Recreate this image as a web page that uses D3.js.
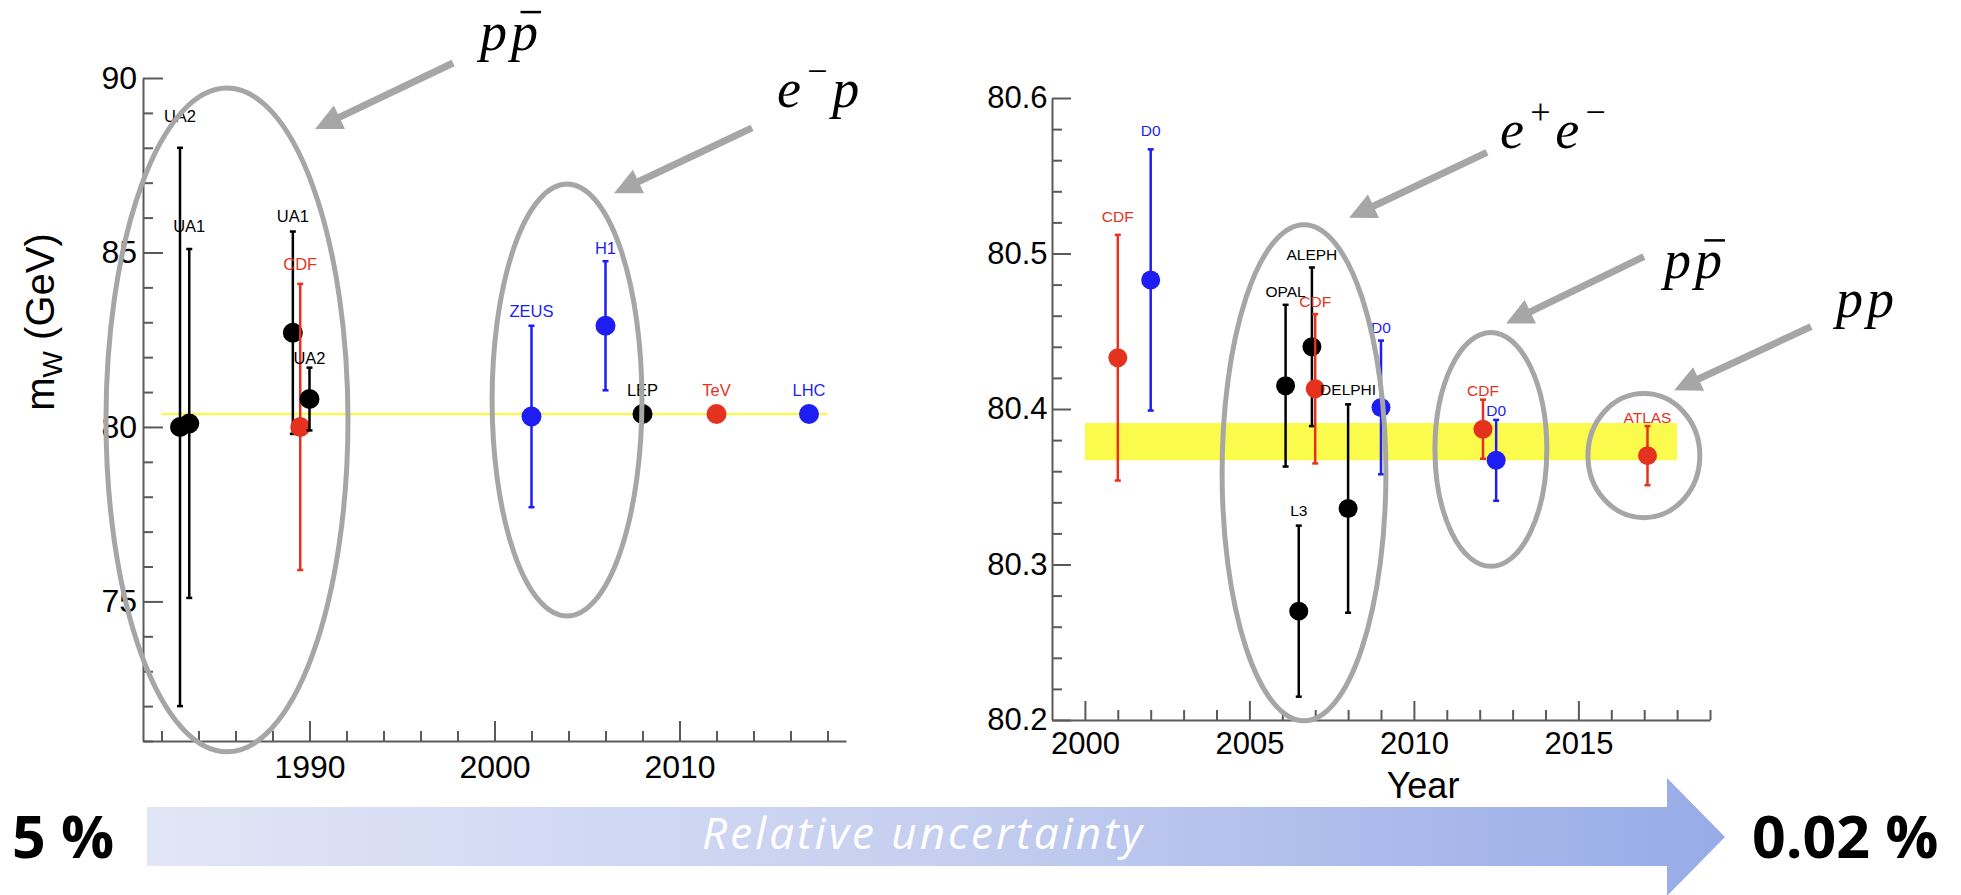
<!DOCTYPE html>
<html>
<head>
<meta charset="utf-8">
<script src="https://cdn.jsdelivr.net/npm/d3@7"></script>
<style>
  body { margin: 0; background: #fff; }
  svg { display: block; font-family: "Liberation Sans", Arial, Helvetica, sans-serif; }
  .axis path, .axis line { stroke: #5a5a5a; stroke-width: 2; }
  .axis text { fill: #000; }
</style>
</head>
<body>
<svg id="chart" width="1961" height="895"></svg>
<script>
// W mass measurements, overview panel (GeV)
var ovExperiment = ["UA2", "UA1", "UA1", "CDF", "UA2", "ZEUS", "H1", "LEP", "TeV", "LHC"];
var ovYear       = [1983, 1983.5, 1989.1, 1989.5, 1990, 2002, 2006, 2008, 2012, 2017];
var ovMass       = [80.0, 80.1, 82.7, 80.0, 80.8, 80.3, 82.9, 80.37, 80.37, 80.37];
var ovError      = [8.0, 5.0, 2.9, 4.1, 0.9, 2.6, 1.85, 0, 0, 0];
var ovSeries     = ["k", "k", "k", "r", "k", "b", "b", "k", "r", "b"];
var ovAverage    = 80.37;

// W mass measurements, detail panel (GeV)
var detExperiment = ["CDF", "D0", "OPAL", "L3", "ALEPH", "CDF", "DELPHI", "D0", "CDF", "D0", "ATLAS"];
var detYear       = [2001, 2002, 2006.1, 2006.5, 2006.9, 2007, 2008, 2009, 2012.1, 2012.5, 2017.1];
var detMass       = [80.433, 80.483, 80.415, 80.270, 80.440, 80.413, 80.336, 80.401, 80.387, 80.367, 80.370];
var detError      = [0.079, 0.084, 0.052, 0.055, 0.051, 0.048, 0.067, 0.043, 0.019, 0.026, 0.019];
var detSeries     = ["r", "b", "k", "k", "k", "r", "k", "b", "r", "b", "r"];
var detBand       = [80.367, 80.391];

// axis ticks
var ovYearTicks   = [1990, 2000, 2010];
var ovMassTicks   = [75, 80, 85, 90];
var detYearTicks  = [2000, 2005, 2010, 2015];
var detMassTicks  = [80.2, 80.3, 80.4, 80.5, 80.6];

// label lift above error bar (px), layout only
var ovLift  = [32, 23, 15, 20, 9, 15, 13, 24, 24, 24];
var detLift = [18, 19, 13, 15, 13, 13, 15, 13, 9, 9, 9];

var svg = d3.select('#chart');
var colour = d3.scaleOrdinal().domain(['k', 'r', 'b']).range(['#000000', '#e5321f', '#1e1ef2']);
var FONT = '"Liberation Sans", Arial, Helvetica, sans-serif';

var xL = d3.scaleLinear().domain([1981, 2019]).range([143, 846]);
var yL = d3.scaleLinear().domain([71, 90]).range([741, 78]);
var xR = d3.scaleLinear().domain([1999, 2019]).range([1052, 1710]);
var yR = d3.scaleLinear().domain([80.2, 80.6]).range([720, 98]);

function rows(exp, year, mass, err, series, lift)
{
    return d3.range(exp.length).map(function(i) {
        return {exp: exp[i], year: year[i], mass: mass[i], err: err[i], series: series[i], lift: lift[i]};
    });
}

function drawAxes(x, y, o)
{
    var y0 = y.range()[0], x0 = x.range()[0];

    var mx = svg.append('g').attr('class', 'axis')
        .attr('transform', 'translate(0,' + y0 + ')')
        .call(d3.axisBottom(x).tickValues(o.xMinor).tickSizeInner(-o.minor).tickSizeOuter(0).tickFormat(''));
    mx.select('.domain').remove();

    var my = svg.append('g').attr('class', 'axis')
        .attr('transform', 'translate(' + x0 + ',0)')
        .call(d3.axisLeft(y).tickValues(o.yMinor).tickSizeInner(-o.minor).tickSizeOuter(0).tickFormat(''));
    my.select('.domain').remove();

    svg.append('g').attr('class', 'axis')
        .attr('transform', 'translate(0,' + y0 + ')')
        .call(d3.axisBottom(x).tickValues(o.xMajor).tickSizeInner(-o.major).tickSizeOuter(0)
            .tickPadding(o.xPad).tickFormat(d3.format('d')))
        .attr('font-size', o.fontSize).attr('font-family', FONT);

    svg.append('g').attr('class', 'axis')
        .attr('transform', 'translate(' + x0 + ',0)')
        .call(d3.axisLeft(y).tickValues(o.yMajor).tickSizeInner(-o.major).tickSizeOuter(0)
            .tickPadding(o.yPad).tickFormat(o.yFormat))
        .attr('font-size', o.fontSize).attr('font-family', FONT);
}

function drawPoints(x, y, data, r, fs)
{
    var g = svg.append('g');
    var pt = g.selectAll('g.pt').data(data).join('g').attr('class', 'pt');
    var bars = pt.filter(function(d) { return d.err > 0 });

    bars.append('line')
        .attr('x1', function(d) { return x(d.year) }).attr('x2', function(d) { return x(d.year) })
        .attr('y1', function(d) { return y(d.mass + d.err) }).attr('y2', function(d) { return y(d.mass - d.err) })
        .attr('stroke', function(d) { return colour(d.series) }).attr('stroke-width', 2.5);

    [1, -1].forEach(function(s) {
        bars.append('line')
            .attr('x1', function(d) { return x(d.year) - 3 }).attr('x2', function(d) { return x(d.year) + 3 })
            .attr('y1', function(d) { return y(d.mass + s * d.err) }).attr('y2', function(d) { return y(d.mass + s * d.err) })
            .attr('stroke', function(d) { return colour(d.series) }).attr('stroke-width', 2.5);
    });

    pt.append('circle')
        .attr('cx', function(d) { return x(d.year) })
        .attr('cy', function(d) { return y(d.mass) })
        .attr('r', r)
        .attr('fill', function(d) { return colour(d.series) });

    g.selectAll('text').data(data).join('text')
        .attr('x', function(d) { return x(d.year) })
        .attr('y', function(d) { return y(d.mass + d.err) - d.lift })
        .attr('dy', '0.35em')
        .attr('text-anchor', 'middle')
        .attr('font-size', fs)
        .attr('fill', function(d) { return colour(d.series) })
        .text(function(d) { return d.exp });
}

// ---- left panel ----
drawAxes(xL, yL, {
    xMajor: ovYearTicks, xMinor: d3.range(1982, 2019, 2).filter(function(v) { return v % 10 }),
    yMajor: ovMassTicks, yMinor: d3.range(71, 91).filter(function(v) { return v % 5 }),
    major: 20, minor: 10, xPad: 14, yPad: 6, fontSize: 32, yFormat: d3.format('d')
});

svg.append('line')
    .attr('x1', xL(1982)).attr('x2', xL(2018))
    .attr('y1', yL(ovAverage)).attr('y2', yL(ovAverage))
    .attr('stroke', '#f8f85a').attr('stroke-width', 2.5);

drawPoints(xL, yL, rows(ovExperiment, ovYear, ovMass, ovError, ovSeries, ovLift), 10, 16.5);

var ylab = svg.append('text')
    .attr('transform', 'translate(54,322) rotate(-90)')
    .attr('text-anchor', 'middle')
    .attr('font-size', 40);
ylab.append('tspan').text('m');
ylab.append('tspan').attr('font-size', 28).attr('dy', 8).text('W');
ylab.append('tspan').attr('dy', -8).text(' (GeV)');

// ---- right panel ----
drawAxes(xR, yR, {
    xMajor: detYearTicks, xMinor: d3.range(2000, 2020).filter(function(v) { return v % 5 }),
    yMajor: detMassTicks, yMinor: d3.range(0, 21).filter(function(i) { return i % 5 }).map(function(i) { return 80.2 + i * 0.02 }),
    major: 19, minor: 10, xPad: 12, yPad: 4.5, fontSize: 31, yFormat: d3.format('.1f')
});

svg.insert('rect', 'g.axis')
    .attr('x', xR(2000)).attr('width', xR(2018) - xR(2000))
    .attr('y', yR(detBand[1])).attr('height', yR(detBand[0]) - yR(detBand[1]))
    .attr('fill', '#fbfb4e');

drawPoints(xR, yR, rows(detExperiment, detYear, detMass, detError, detSeries, detLift), 9.5, 15.5);

svg.append('text')
    .attr('x', 1423).attr('y', 798)
    .attr('text-anchor', 'middle')
    .attr('font-size', 36)
    .text('Year');

// ---- annotations: rings, arrows and collider labels, in panel units ----
var GREY = '#a6a6a6';

function ring(x, y, c)
{
    svg.append('ellipse')
        .attr('cx', x(c.cx)).attr('cy', y(c.cy))
        .attr('rx', Math.abs(x(c.cx + c.rx) - x(c.cx)))
        .attr('ry', Math.abs(y(c.cy + c.ry) - y(c.cy)))
        .attr('fill', 'none').attr('stroke', GREY).attr('stroke-width', 5);
}

function arrow(x, y, a)
{
    var t0 = [x(a.from[0]), y(a.from[1])], t1 = [x(a.to[0]), y(a.to[1])];
    var dx = t1[0] - t0[0], dy = t1[1] - t0[1], len = Math.sqrt(dx * dx + dy * dy);
    var ux = dx / len, uy = dy / len, head = 27, hw = 13;
    var bx = t1[0] - ux * head, by = t1[1] - uy * head;

    svg.append('line')
        .attr('x1', t0[0]).attr('y1', t0[1]).attr('x2', bx + ux * 2).attr('y2', by + uy * 2)
        .attr('stroke', GREY).attr('stroke-width', 7);
    svg.append('path')
        .attr('d', 'M' + t1[0] + ',' + t1[1] + 'L' + (bx - uy * hw) + ',' + (by + ux * hw) + 'L' + (bx + uy * hw) + ',' + (by - ux * hw) + 'Z')
        .attr('fill', GREY);
}

function mathLabel(x, y, m)
{
    var px = x(m.at[0]), base = y(m.at[1]), fs = 54;
    m.parts.forEach(function(p) {
        var t = svg.append('text')
            .attr('x', px).attr('y', p.sup ? base - 24 : base)
            .attr('font-family', '"Liberation Serif", "Times New Roman", serif')
            .attr('font-style', 'italic')
            .attr('font-size', p.sup ? 36 : fs)
            .text(p.t);
        var w = t.node().getComputedTextLength();
        if(p.bar)
        {
            svg.append('line')
                .attr('x1', px + w * 0.35).attr('x2', px + w + 3)
                .attr('y1', base - 38).attr('y2', base - 38)
                .attr('stroke', '#000').attr('stroke-width', 2.5);
        }
        px += w + (p.sup ? 3 : 4);
    });
}

var ovRings  = [{cx: 1985.54, cy: 80.20, rx: 6.54, ry: 9.51}, {cx: 2003.92, cy: 80.77, rx: 4.05, ry: 6.19}];
var detRings = [{cx: 2006.66, cy: 80.359, rx: 2.49, ry: 0.1595},
                {cx: 2012.34, cy: 80.374, rx: 1.70, ry: 0.0752},
                {cx: 2016.99, cy: 80.370, rx: 1.70, ry: 0.0399}];

var ovArrows  = [{from: [1997.76, 90.43], to: [1990.30, 88.54]}, {from: [2013.92, 88.57], to: [2006.46, 86.70]}];
var detArrows = [{from: [2012.22, 80.565], to: [2008.03, 80.523]},
                 {from: [2016.99, 80.498], to: [2012.80, 80.455]},
                 {from: [2022.07, 80.453], to: [2017.91, 80.412]}];

var ovTags  = [{at: [1999.22, 90.80], parts: [{t: 'p'}, {t: 'p', bar: true}]},
               {at: [2015.27, 89.17], parts: [{t: 'e'}, {t: '\u2212', sup: true}, {t: 'p'}]}];
var detTags = [{at: [2012.62, 80.568], parts: [{t: 'e'}, {t: '+', sup: true}, {t: 'e'}, {t: '\u2212', sup: true}]},
               {at: [2017.60, 80.484], parts: [{t: 'p'}, {t: 'p', bar: true}]},
               {at: [2022.83, 80.459], parts: [{t: 'p'}, {t: 'p'}]}];

ovRings.forEach(function(c) { ring(xL, yL, c) });
detRings.forEach(function(c) { ring(xR, yR, c) });
ovArrows.forEach(function(a) { arrow(xL, yL, a) });
detArrows.forEach(function(a) { arrow(xR, yR, a) });
ovTags.forEach(function(m) { mathLabel(xL, yL, m) });
detTags.forEach(function(m) { mathLabel(xR, yR, m) });

// ---- bottom: relative uncertainty arrow ----
var grad = svg.append('defs').append('linearGradient')
    .attr('id', 'unc').attr('gradientUnits', 'userSpaceOnUse')
    .attr('x1', 147).attr('x2', 1725).attr('y1', 0).attr('y2', 0);
grad.append('stop').attr('offset', 0).attr('stop-color', '#e1e5f6');
grad.append('stop').attr('offset', 0.5).attr('stop-color', '#c6cff0');
grad.append('stop').attr('offset', 1).attr('stop-color', '#97abe7');

svg.append('path')
    .attr('d', 'M147,807H1667V778L1725,837L1667,896V866H147Z')
    .attr('fill', 'url(#unc)');

svg.append('text')
    .attr('x', 922).attr('y', 849)
    .attr('text-anchor', 'middle')
    .attr('font-family', '"Open Sans", "Noto Sans", sans-serif')
    .attr('font-style', 'italic')
    .attr('font-size', 44)
    .attr('textLength', 440)
    .attr('lengthAdjust', 'spacing')
    .attr('fill', '#fff')
    .text('Relative uncertainty');

[{t: '5 %', x: 12}, {t: '0.02 %', x: 1752}].forEach(function(d) {
    svg.append('text')
        .attr('x', d.x).attr('y', 858)
        .attr('font-family', '"Open Sans", "Noto Sans", sans-serif')
        .attr('font-weight', 'bold')
        .attr('font-size', 59)
        .text(d.t);
});
</script>
</body>
</html>
